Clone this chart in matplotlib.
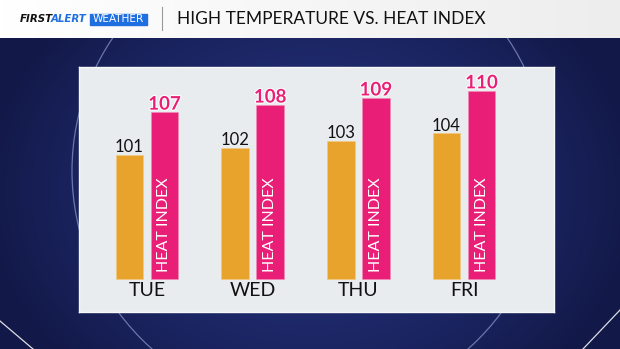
import numpy as np
import matplotlib
matplotlib.use("Agg")
import matplotlib.pyplot as plt
from matplotlib.patches import Rectangle, Circle
import matplotlib.patheffects as pe

# ---- data ----
days = ["TUE", "WED", "THU", "FRI"]
high_temp = [101, 102, 103, 104]
heat_index = [107, 108, 109, 110]
title = "HIGH TEMPERATURE VS. HEAT INDEX"
bar_text = "HEAT INDEX"

W, H = 620, 349
DPI = 100
FONT = "Lato"
ORANGE = "#E8A32D"
PINK = "#E91E76"

fig = plt.figure(figsize=(W / DPI, H / DPI), dpi=DPI)

# ---- background (pixel coordinates) ----
bg = fig.add_axes([0, 0, 1, 1])
bg.set_xlim(0, W)
bg.set_ylim(H, 0)
bg.axis("off")
yy, xx = np.mgrid[0:H, 0:W]
r = np.sqrt(((xx - 310) / 330.0) ** 2 + ((yy - 190) / 260.0) ** 2)
c_center = np.array([0x25, 0x32, 0x7e]) / 255.0
c_edge = np.array([0x12, 0x19, 0x48]) / 255.0
t = np.clip(r, 0, 1)[..., None] ** 1.4
img = c_center * (1 - t) + c_edge * t
bg.imshow(img, extent=[0, W, H, 0], aspect="auto", zorder=0)
bg.add_patch(Circle((310, 171), 238, fill=False, edgecolor="#8f9bd0",
                    lw=0.9, alpha=0.7, zorder=1))
bg.plot([0, 33], [321, 349], color="white", lw=0.9, alpha=0.85, zorder=1)
bg.plot([620, 583], [310, 349], color="white", lw=0.9, alpha=0.85, zorder=1)

# header bar
hdr = np.linspace(1.0, 0.93, 200)[None, :]
bg.imshow(np.dstack([hdr, hdr, hdr]), extent=[0, W, 38, 0], aspect="auto", zorder=2)
bg.plot([162, 162], [7, 30], color="#9a9a9a", lw=0.8, zorder=3)
bg.text(177, 19.5, title, fontsize=12.5, family=FONT, color="#111111",
        va="center", ha="left", zorder=3)
# logo
bg.text(20, 19.5, "FIRST", fontsize=7.4, family="DejaVu Sans", weight="bold",
        style="italic", color="#111111", va="center", ha="left", zorder=3)
bg.text(50.5, 19.5, "ALERT", fontsize=7.4, family="DejaVu Sans", weight="bold",
        style="italic", color="#1f6fe0", va="center", ha="left", zorder=3)
bg.add_patch(Rectangle((89.5, 14), 57, 10.5, color="#1f6fe0", zorder=3))
bg.text(118, 19.5, "WEATHER", fontsize=7.6, family="DejaVu Sans",
        color="white", va="center", ha="center", zorder=4)

# ---- chart panel ----
px0, px1 = 79, 554          # panel x (px)
py_top, py_bot = 67, 312    # panel y (px from top)
base_px = 279               # bar baseline (px from top)
scale = 7.1                 # px per degree
BASE = 83.5                 # value at bar baseline
centers_px = (147, 464)

ax = fig.add_axes([px0 / W, 1 - py_bot / H, (px1 - px0) / W, (py_bot - py_top) / H])
ax.set_facecolor("#e9ecee")
for s in ax.spines.values():
    s.set_color("#f6f7f8")
    s.set_linewidth(1.0)
ax.set_xticks([])
ax.set_yticks([])

unit = (centers_px[1] - centers_px[0]) / 3.0
ax.set_xlim(-(centers_px[0] - px0) / unit, 3 + (px1 - centers_px[1]) / unit)
ax.set_ylim(BASE - (py_bot - base_px) / scale, BASE + (base_px - py_top) / scale)

x = np.arange(len(days))
bw = 27.5 / unit
off = 17.5 / unit

ht = np.array(high_temp)
hi = np.array(heat_index)
ax.bar(x - off, ht - BASE, bottom=BASE, width=bw, color=ORANGE,
       edgecolor="#f3c77a", linewidth=0.4)
ax.bar(x + off, hi - BASE, bottom=BASE, width=bw, color=PINK,
       edgecolor="#f38ab5", linewidth=0.4)

lift = 2.5 / scale
for xi, v in zip(x, ht):
    ax.text(xi - off, v + lift, str(v), ha="center", va="baseline",
            fontsize=12, family=FONT, color="#111111")
for xi, v in zip(x, hi):
    ax.text(xi + off, v + lift, str(v), ha="center", va="baseline",
            fontsize=13.5, family=FONT, weight="bold", color=PINK,
            path_effects=[pe.withStroke(linewidth=1.5, foreground="white")])
    ax.text(xi + off, BASE + 7 / scale, bar_text, rotation=90, ha="center",
            va="bottom", fontsize=11.5, family=FONT, color="white")

for xi, d in zip(x, days):
    ax.text(xi, BASE - 11 / scale, d, ha="center", va="center",
            fontsize=14, family=FONT, color="#111111")

fig.savefig("out.png", dpi=DPI)
